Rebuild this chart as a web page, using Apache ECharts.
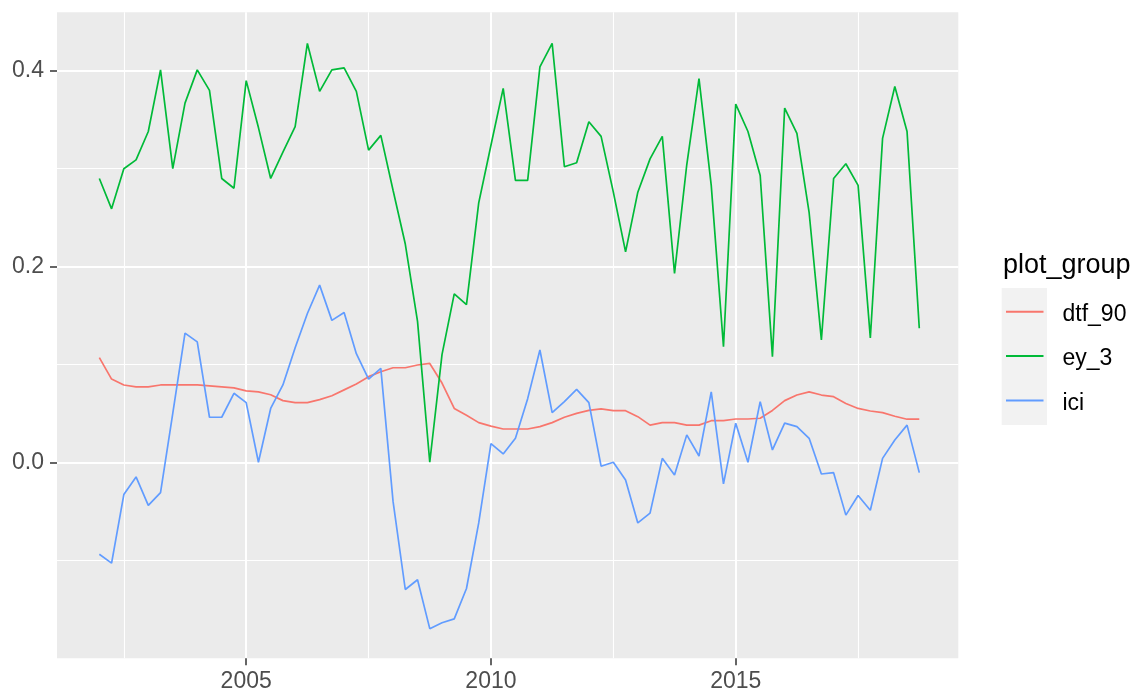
<!DOCTYPE html>
<html><head><meta charset="utf-8">
<script src="https://cdn.jsdelivr.net/npm/echarts@6/dist/echarts.min.js"></script>
<style>html,body{margin:0;padding:0;background:#fff}#c{width:1136px;height:696px}</style>
</head><body><div id="c"></div>
<script>
const years = [
  2002.00,2002.25,2002.50,2002.75,2003.00,2003.25,2003.50,2003.75,2004.00,2004.25,2004.50,2004.75,
  2005.00,2005.25,2005.50,2005.75,2006.00,2006.25,2006.50,2006.75,2007.00,2007.25,2007.50,2007.75,
  2008.00,2008.25,2008.50,2008.75,2009.00,2009.25,2009.50,2009.75,2010.00,2010.25,2010.50,2010.75,
  2011.00,2011.25,2011.50,2011.75,2012.00,2012.25,2012.50,2012.75,2013.00,2013.25,2013.50,2013.75,
  2014.00,2014.25,2014.50,2014.75,2015.00,2015.25,2015.50,2015.75,2016.00,2016.25,2016.50,2016.75,
  2017.00,2017.25,2017.50,2017.75,2018.00,2018.25,2018.50,2018.75
];
const dtf_90 = [
  0.107,0.085,0.079,0.077,0.077,0.079,0.079,0.079,0.079,0.078,0.077,0.076,
  0.073,0.072,0.069,0.063,0.061,0.061,0.064,0.068,0.074,0.080,0.0875,0.0925,
  0.0966,0.0966,0.0994,0.101,0.081,0.055,0.048,0.0405,0.037,0.034,0.034,0.034,
  0.0364,0.0405,0.046,0.050,0.053,0.0545,0.0527,0.0527,0.0466,0.038,0.0405,0.0405,
  0.038,0.038,0.0425,0.0425,0.0442,0.0442,0.045,0.053,0.063,0.0687,0.072,0.0687,
  0.067,0.060,0.055,0.0524,0.0507,0.047,0.044,0.044
];
const ey_3 = [
  0.290,0.259,0.300,0.309,0.338,0.401,0.300,0.367,0.401,0.380,0.290,0.280,
  0.390,0.342,0.290,0.317,0.343,0.428,0.379,0.401,0.403,0.379,0.319,0.334,
  0.278,0.223,0.144,0.000,0.110,0.172,0.161,0.265,0.324,0.382,0.288,0.288,
  0.404,0.428,0.302,0.306,0.348,0.333,0.276,0.215,0.276,0.310,0.333,0.193,
  0.304,0.392,0.283,0.118,0.366,0.338,0.293,0.108,0.362,0.336,0.255,0.125,
  0.290,0.305,0.283,0.127,0.331,0.384,0.338,0.137
];
const ici = [
  -0.094,-0.103,-0.033,-0.015,-0.044,-0.031,0.050,0.132,0.123,0.046,0.046,0.0705,
  0.061,0.000,0.055,0.079,0.117,0.152,0.181,0.145,0.153,0.111,0.085,0.096,
  -0.040,-0.130,-0.120,-0.170,-0.164,-0.160,-0.129,-0.062,0.019,0.0085,0.0245,0.065,
  0.1147,0.0507,0.062,0.0745,0.061,-0.004,0.000,-0.018,-0.062,-0.052,0.004,-0.013,
  0.028,0.0064,0.072,-0.022,0.040,0.000,0.062,0.0126,0.040,0.0364,0.0245,-0.012,
  -0.0106,-0.054,-0.034,-0.049,0.004,0.0228,0.038,-0.0106
];
const xTickLabels = [2005, 2010, 2015];
const yTickLabels = [0.0, 0.2, 0.4];
const seriesNames = ['dtf_90', 'ey_3', 'ici'];
const seriesColors = ['#F8766D', '#00BA38', '#619CFF'];
const legendTitle = 'plot_group';

const FONT = "'Liberation Sans', Arial, sans-serif";
const pair = (arr) => years.map((y, i) => [y, arr[i]]);
const seriesData = [dtf_90, ey_3, ici];

const chart = echarts.init(document.getElementById('c'), null, {renderer: 'canvas'});
const hidden = {show: false};
const option = {
  animation: false,
  backgroundColor: '#ffffff',
  grid: [
    // 0: data panel
    {left: 57, right: 177.7, top: 12.3, bottom: 37.7, show: true, backgroundColor: '#EBEBEB', borderWidth: 0},
    // 1: vertical grid lines (x extended to 2000..2020, outside parts are white on white)
    {left: 1.45, right: 155.55, top: 12.3, bottom: 37.7, show: false},
    // 2: major horizontal grid lines (-0.2 .. 0.4)
    {left: 57, right: 177.7, top: 70.86, bottom: 38.0, show: false},
    // 3: minor horizontal grid lines (-0.1 .. 0.3)
    {left: 57, right: 177.7, top: 168.7, bottom: 135.8, show: false}
  ],
  xAxis: [
    {gridIndex: 0, type: 'value', min: 2001.135, max: 2019.547,
     axisLine: {show: false, onZero: false}, splitLine: hidden,
     axisTick: {show: true, customValues: xTickLabels, length: 7, lineStyle: {color: '#333333', width: 1.5}},
     axisLabel: {customValues: xTickLabels, margin: 12, fontSize: 23, color: '#4D4D4D', fontFamily: FONT,
                 formatter: v => String(v)}},
    {gridIndex: 1, type: 'value', min: 2000, max: 2020, interval: 5,
     axisLine: {show: false, onZero: false}, axisTick: hidden, axisLabel: hidden,
     splitLine: {show: true, showMinLine: false, showMaxLine: false, lineStyle: {color: '#ffffff', width: 2}},
     minorTick: {show: false, splitNumber: 2},
     minorSplitLine: {show: true, lineStyle: {color: '#ffffff', width: 1.1}}},
    {gridIndex: 2, type: 'value', min: 0, max: 1, show: false},
    {gridIndex: 3, type: 'value', min: 0, max: 1, show: false}
  ],
  yAxis: [
    {gridIndex: 0, type: 'value', min: -0.2003, max: 0.4598,
     axisLine: {show: false, onZero: false}, splitLine: hidden,
     axisTick: {show: true, customValues: yTickLabels, length: 7, lineStyle: {color: '#333333', width: 1.5}},
     axisLabel: {customValues: yTickLabels, margin: 13, fontSize: 23, color: '#4D4D4D', fontFamily: FONT,
                 formatter: v => Number(v).toFixed(1)}},
    {gridIndex: 1, type: 'value', min: 0, max: 1, show: false},
    {gridIndex: 2, type: 'value', min: -0.2, max: 0.4, interval: 0.2,
     axisLine: {show: false, onZero: false}, axisTick: hidden, axisLabel: hidden,
     splitLine: {show: true, showMinLine: false, showMaxLine: true, lineStyle: {color: '#ffffff', width: 2}}},
    {gridIndex: 3, type: 'value', min: -0.1, max: 0.3, interval: 0.2,
     axisLine: {show: false, onZero: false}, axisTick: hidden, axisLabel: hidden,
     splitLine: {show: true, showMinLine: true, showMaxLine: true, lineStyle: {color: '#ffffff', width: 1.1}}}
  ],
  legend: {
    orient: 'vertical', left: 1006, top: 297.3, padding: 0,
    itemWidth: 37.5, itemHeight: 2, itemGap: 15.3, icon: 'rect',
    data: seriesNames,
    formatter: n => '{a|' + n + '}',
    textStyle: {rich: {a: {padding: [6, 0, 0, 14], fontSize: 23, lineHeight: 24, color: '#000000', fontFamily: FONT}}}
  },
  graphic: [
    {type: 'rect', left: 1001.7, top: 288, z: -1, silent: true,
     shape: {width: 45.3, height: 137}, style: {fill: '#F2F2F2'}},
    {type: 'text', x: 1003, y: 266, silent: true,
     style: {text: legendTitle, fontSize: 27, fontFamily: FONT, fill: '#000000', verticalAlign: 'middle', align: 'left'}}
  ],
  series: seriesNames.map((name, k) => ({
    name: name, type: 'line', xAxisIndex: 0, yAxisIndex: 0, z: 3,
    data: pair(seriesData[k]), showSymbol: false, symbol: 'none',
    color: seriesColors[k],
    lineStyle: {color: seriesColors[k], width: 1.7},
    emphasis: {disabled: true}
  }))
};
chart.setOption(option);
</script>
</body></html>
